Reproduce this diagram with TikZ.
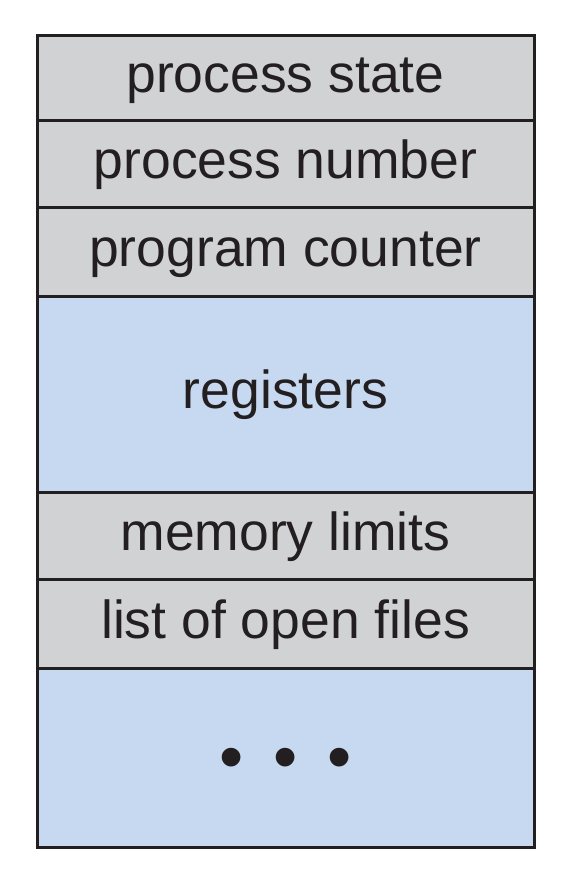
\documentclass[tikz,border=0pt]{standalone}
\usepackage{fontspec}
\setmainfont{Liberation Sans}
\usetikzlibrary{positioning}
\definecolor{pcbgray}{HTML}{D1D2D4}
\definecolor{pcbblue}{HTML}{C6D9F0}
\definecolor{pcbline}{HTML}{231F20}
\tikzset{
every node/.style={font=\fontsize{53.5}{60}\selectfont, text=pcbline}, % sets the text for all fields
field/.style={draw=pcbline, line width=3pt, minimum width=497pt, outer sep=0pt, inner sep=0pt,
  text height=40pt, text depth=11pt}, % one row of the block
plain/.style={field, fill=pcbgray}, % grey rows
wide/.style={field, fill=pcbblue}, % blue rows
}

\begin{document}
\begin{tikzpicture}
    \useasboundingbox (0,0) rectangle (571pt,-878pt);
    \node[plain, minimum height=85pt, anchor=north west] (state) at (37pt,-35pt) {process state};
    \node[plain, minimum height=87pt, below=0pt of state] (number) {process number};
    \node[plain, minimum height=89pt, below=0pt of number] (counter) {program counter};
    \node[wide, minimum height=196pt, below=0pt of counter] (registers) {registers};
    \node[plain, minimum height=87pt, below=0pt of registers] (limits) {memory limits};
    \node[plain, minimum height=89pt, below=0pt of limits] (files) {list of open files};
    \node[wide, minimum height=179pt, below=0pt of files, font=\fontsize{69}{70}\selectfont,
      text height=46pt, text depth=0pt] (more) {•\hspace{29.5pt}•\hspace{29.5pt}•};
  \end{tikzpicture}
\end{document}
